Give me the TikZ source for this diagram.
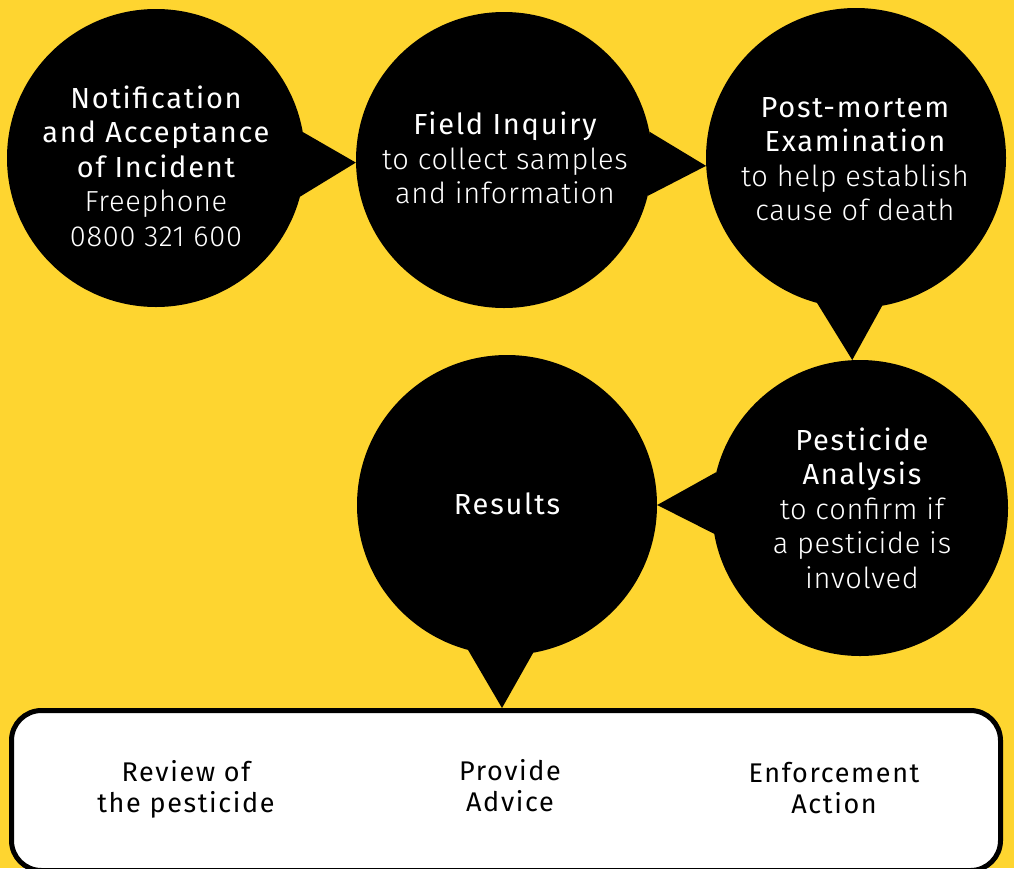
\documentclass[tikz,border=0pt]{standalone}
\usepackage{fontspec}
\setmainfont{Fira Sans}[LetterSpace=6]
\newfontfamily\lightfont{Fira Sans Light}[LetterSpace=2.5]
\definecolor{bgyellow}{RGB}{254,213,48}
\tikzset{
  bubble/.style={circle, fill=black, inner sep=0pt},
  txt/.style={text=white, align=center, inner sep=0pt, font=\fontsize{29}{34.5}\selectfont},
  pointer/.style={fill=black},
  resultbox/.style={draw=black, line width=5pt, fill=white, rounded corners=30pt, inner sep=0pt},
  boxtxt/.style={text=black, align=center, inner sep=0pt, font=\fontsize{27}{31}\selectfont}
}
\begin{document}
\begin{tikzpicture}[x=1pt,y=-1pt]
\useasboundingbox (0,0) rectangle (1014,868);
\clip (0,0) rectangle (1014,868);
\fill[bgyellow] (0,0) rectangle (1014,868);

\node[bubble, minimum size=298pt] (c1) at (156,158) {};
\node[bubble, minimum size=296pt] (c2) at (504,160) {};
\node[bubble, minimum size=300pt] (c3) at (856,158) {};
\node[bubble, minimum size=296pt] (c4) at (860,508) {};
\node[bubble, minimum size=300pt] (c5) at (507,505) {};

\node[resultbox, minimum width=989pt, minimum height=160pt] (box) at (506,790.5) {};
\coordinate (tip5) at (502,708);

\fill[pointer] (c1.10) -- (c2.181) -- (c1.-15) -- cycle;
\fill[pointer] (c2.11) -- (c3.183) -- (c2.-14) -- cycle;
\fill[pointer] (c3.-105) -- (c4.93) -- (c3.-80) -- cycle;
\fill[pointer] (c4.166) -- (c5.east) -- (c4.190) -- cycle;
\fill[pointer] (c5.-105) -- (tip5) -- (c5.-80) -- cycle;

\node[txt] (t1) at (156,166) {Notification\\and Acceptance\\of Incident\\{\lightfont Freephone}\\{\lightfont 0800 321 600}};
\node[txt] (t2) at (505,158) {Field Inquiry\\{\lightfont to collect samples}\\{\lightfont and information}};
\node[txt] (t3) at (855,159) {Post-mortem\\Examination\\{\lightfont to help establish}\\{\lightfont cause of death}};
\node[txt] (t4) at (862,508) {Pesticide\\Analysis\\{\lightfont to confirm if}\\{\lightfont a pesticide is}\\{\lightfont involved}};
\node[txt] (t5) at (507,504) {Results};

\node[boxtxt] (b1) at (186,789) {Review of\\the pesticide};
\node[boxtxt] (b2) at (510,786) {Provide\\Advice};
\node[boxtxt] (b3) at (834,788) {Enforcement\\Action};
\end{tikzpicture}
\end{document}
